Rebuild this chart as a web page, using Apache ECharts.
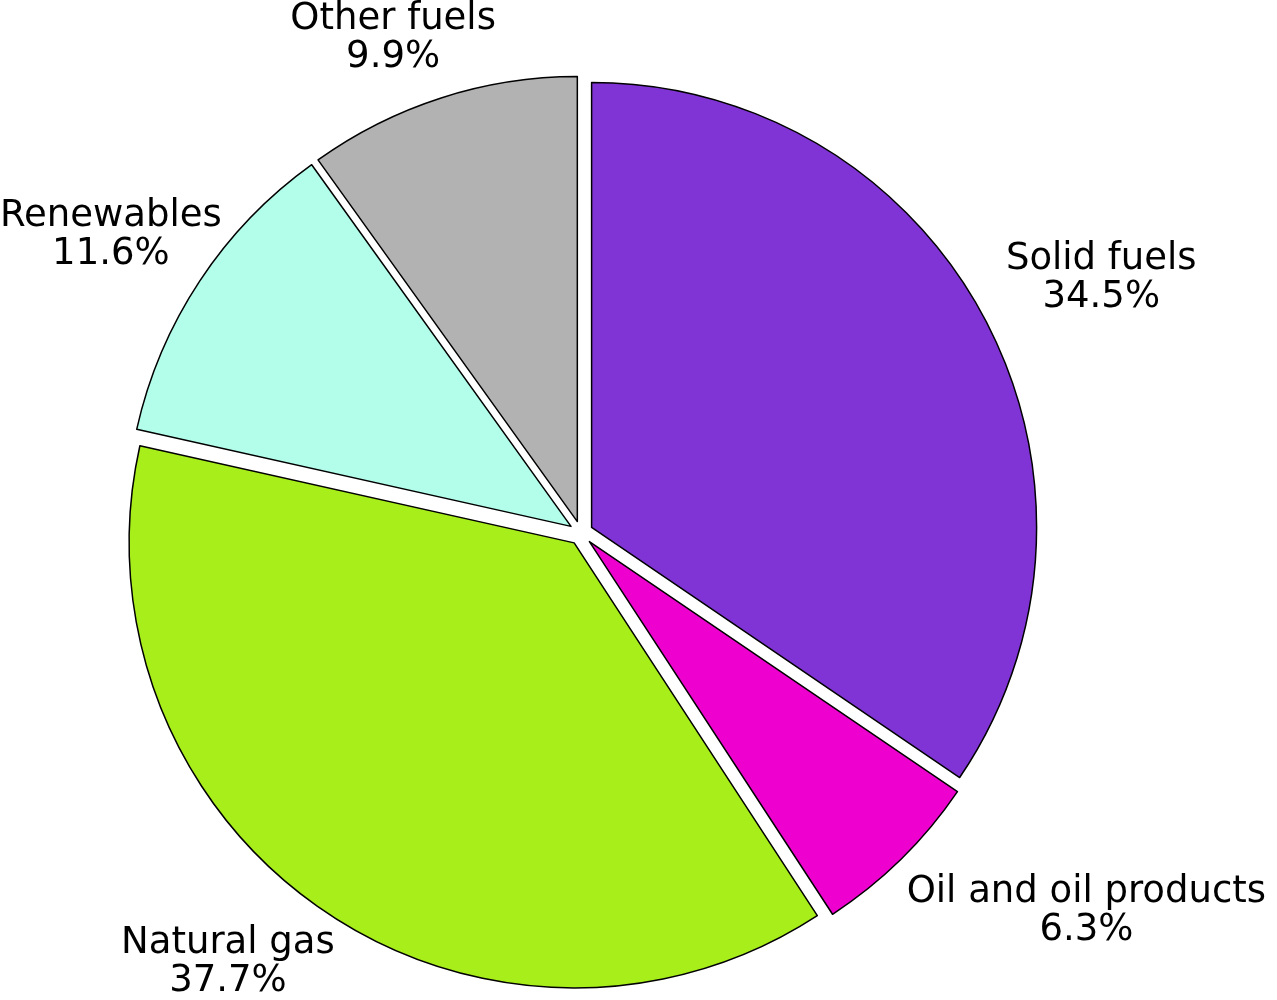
<!DOCTYPE html>
<html>
<head>
<meta charset="utf-8">
<script src="https://cdn.jsdelivr.net/npm/echarts@6/dist/echarts.min.js"></script>
<style>
  html, body { margin: 0; padding: 0; background: #fff; }
  #pieChart { width: 1277px; height: 1000px; }
</style>
</head>
<body>
<div id="pieChart"></div>
<script>
// data, clockwise from 12 o'clock
const categories = ['Solid fuels', 'Oil and oil products', 'Natural gas', 'Renewables', 'Other fuels'];
const shares = [34.5, 6.3, 37.7, 11.6, 9.9];
const colors = ['#8034D6', '#EE00CE', '#A8EE1A', '#B2FEEA', '#B2B2B2'];

const W = 1277, H = 1000;
const cx = 581, cy = 533, R = 445;
const explode = 12;   // every slice pulled out a little
const anchorR = 470;  // labels hang off this circle

// mid angle of each slice (clockwise from top, radians)
const total = shares.reduce((a, b) => a + b, 0);
let acc = 0;
const midAngles = shares.map(v => {
  const m = (acc + v / 2) / total * Math.PI * 2;
  acc += v;
  return m;
});

let myChart = echarts.init(document.getElementById('pieChart'));
myChart.setOption({
  animation: false,
  textStyle: { fontFamily: 'DejaVu Sans' },
  series: [
    {
      // the slices, all pulled out
      type: 'pie',
      center: [cx, cy],
      radius: [0, R],
      startAngle: 90,
      clockwise: true,
      selectedMode: 'multiple',
      selectedOffset: explode,
      emphasis: { disabled: true },
      itemStyle: { borderColor: '#000', borderWidth: 1.5 },
      label: { show: false },
      labelLine: { show: false },
      data: categories.map((name, i) => ({
        name: name,
        value: shares[i],
        selected: true,
        itemStyle: { color: colors[i] }
      }))
    },
    {
      // same pie again, invisible, only carries the labels
      type: 'pie',
      center: [cx, cy],
      radius: [0, R],
      startAngle: 90,
      clockwise: true,
      silent: true,
      z: 1,
      itemStyle: { color: 'rgba(0,0,0,0)', borderWidth: 0 },
      emphasis: { disabled: true },
      label: {
        show: true,
        position: 'outside',
        color: '#000',
        fontSize: 37,
        lineHeight: 38,
        align: 'center',
        overflow: 'none',
        formatter: p => p.name + '\n' + p.value.toFixed(1) + '%'
      },
      labelLine: { show: false },
      labelLayout: function (params) {
        const t = midAngles[params.dataIndex];
        const ux = Math.sin(t), uy = -Math.cos(t);
        const w = params.labelRect.width, h = params.labelRect.height;
        const ax = cx + ux * anchorR, ay = cy + uy * anchorR;
        const f = Math.max(-1.1, Math.min(1.1, 1.4 * ux));
        let x = ax + f * w / 2;
        x = Math.max(w / 2, Math.min(W - w / 2, x));
        const g = Math.sign(uy) * (0.5 + 0.9 * Math.abs(uy));
        let y = ay + g * h / 2;
        y = Math.max(h / 2, Math.min(H - h / 2, y));
        return { x: x, y: y, align: 'center', verticalAlign: 'middle' };
      },
      data: categories.map((name, i) => ({ name: name, value: shares[i] }))
    }
  ]
});
</script>
</body>
</html>
